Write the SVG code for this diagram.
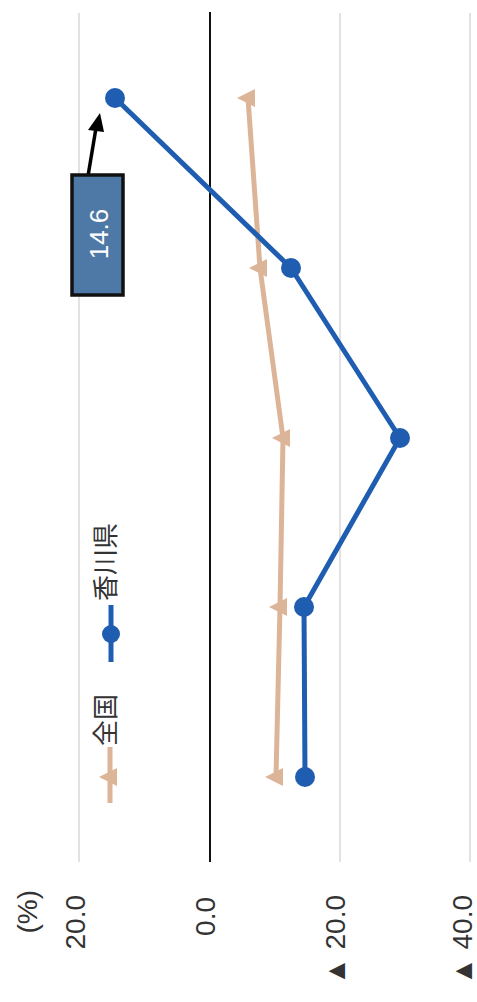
<svg xmlns="http://www.w3.org/2000/svg" width="477" height="1002" viewBox="0 0 477 1002">
<style>
.grid{stroke:#d9d9d9;stroke-width:1.5;fill:none}
.zero{stroke:#111;stroke-width:2;fill:none}
.ax{font-family:"Liberation Sans",Arial,sans-serif;font-size:28px;fill:#333}
.lg{font-family:"Noto Sans CJK JP","Noto Sans",sans-serif;font-size:26px;fill:#333}
.kag{stroke:#1f5db0;stroke-width:5;fill:none;stroke-linejoin:round}
.zen{stroke:#dcb598;stroke-width:5;fill:none;stroke-linejoin:round}
.dot{fill:#1f5db0}
.tri{fill:#dcb598}
</style>
<defs>
<polygon id="tri" points="-11,0 7,-9 7,9"/>
</defs>
<rect width="477" height="1002" fill="#fff"/>
<g id="grid">
<line class="grid" x1="79" y1="13" x2="79" y2="862"/>
<line class="grid" x1="340" y1="13" x2="340" y2="862"/>
<line class="grid" x1="470" y1="13" x2="470" y2="862"/>
<line class="zero" x1="210" y1="12" x2="210" y2="862"/>
</g>
<g id="axis-labels">
<text class="ax" transform="translate(37,890) rotate(-90)" text-anchor="end">(%)</text>
<text class="ax" transform="translate(85,895) rotate(-90)" text-anchor="end">20.0</text>
<text class="ax" transform="translate(215,897) rotate(-90)" text-anchor="end">0.0</text>
<text class="ax" transform="translate(345,895) rotate(-90)" text-anchor="end">▲ 20.0</text>
<text class="ax" transform="translate(472,895) rotate(-90)" text-anchor="end">▲ 40.0</text>
</g>
<g id="connectors">
<polyline id="series-zenkoku" class="zen" points="248,98 260,268 283,438 280,607 276,777"/>
<polyline id="series-kagawa" class="kag" points="115,98 291,268 400,438 304,607 305,777"/>
</g>
<g id="markers-zenkoku" class="tri">
<use href="#tri" x="248" y="98"/>
<use href="#tri" x="260" y="268"/>
<use href="#tri" x="283" y="438"/>
<use href="#tri" x="280" y="607"/>
<use href="#tri" x="276" y="777"/>
</g>
<g id="markers-kagawa" class="dot">
<circle cx="115" cy="98" r="10"/>
<circle cx="291" cy="268" r="10"/>
<circle cx="400" cy="438" r="10"/>
<circle cx="304" cy="607" r="10"/>
<circle cx="305" cy="777" r="10"/>
</g>
<g id="legend-zenkoku">
<line class="zen" x1="110" y1="747" x2="110" y2="803"/>
<use href="#tri" x="110" y="777" class="tri"/>
<text class="lg" transform="translate(115,746) rotate(-90)">全国</text>
</g>
<g id="legend-kagawa">
<line class="kag" x1="111" y1="605" x2="111" y2="662"/>
<circle class="dot" cx="111" cy="634" r="9"/>
<text class="lg" transform="translate(115,601) rotate(-90)">香川県</text>
</g>
<g id="callout">
<line x1="88" y1="176" x2="96" y2="128" stroke="#000" stroke-width="3.5"/>
<polygon points="100,113 88,130 104,132" fill="#000"/>
<rect x="72" y="175" width="51" height="120" fill="#4e78a6" stroke="#111" stroke-width="3.5"/>
<text transform="translate(108,234) rotate(-90)" text-anchor="middle" font-family="Liberation Sans,Arial,sans-serif" font-size="26" fill="#fff">14.6</text>
</g>
</svg>
